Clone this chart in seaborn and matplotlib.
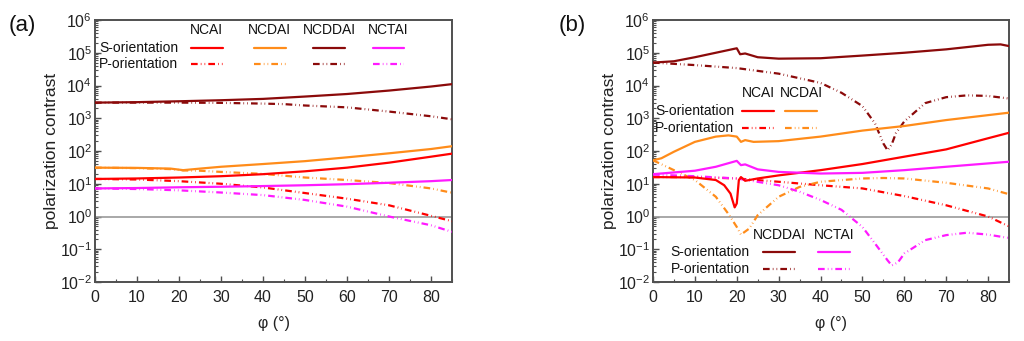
import numpy as np
import pandas as pd
import seaborn as sns
import matplotlib
matplotlib.use("Agg")
import matplotlib.pyplot as plt
from matplotlib.lines import Line2D
from matplotlib.ticker import LogLocator, MultipleLocator, NullFormatter

sns.set_theme(style="white")
plt.rcParams['font.family'] = ['Liberation Sans', 'DejaVu Sans']
plt.rcParams['mathtext.fontset'] = 'custom'
plt.rcParams['mathtext.rm'] = 'Liberation Sans'
plt.rcParams['mathtext.it'] = 'Liberation Sans:italic'
plt.rcParams['mathtext.bf'] = 'Liberation Sans:bold'

materials = ["NCAI", "NCDAI", "NCDDAI", "NCTAI"]
colors = {"NCAI": "#ff0000", "NCDAI": "#ff8c1a", "NCDDAI": "#8b0a0a", "NCTAI": "#ff1aff"}

# ---------------- Panel (a) ----------------
a_NCDDAI_S_x = [0, 10, 20, 30, 40, 50, 60, 70, 80, 85]
a_NCDDAI_S_y = [3000, 3100, 3300, 3550, 3900, 4600, 5500, 7000, 9300, 11000]
a_NCDDAI_P_x = [0, 10, 20, 30, 40, 45, 50, 60, 70, 80, 85]
a_NCDDAI_P_y = [3000, 3000, 3000, 2950, 2800, 2700, 2450, 2150, 1600, 1150, 930]

a_NCDAI_S_x = [0, 10, 18, 21, 25, 30, 40, 50, 60, 70, 80, 85]
a_NCDAI_S_y = [31, 30.5, 29, 26, 29, 33, 40, 49, 64, 85, 115, 140]
a_NCDAI_P_x = [0, 10, 18, 21, 25, 30, 40, 50, 60, 70, 80, 85]
a_NCDAI_P_y = [31, 30, 28, 25.5, 25, 23, 20, 15.5, 13, 10.5, 7.2, 5.3]

a_NCAI_S_x = [0, 10, 20, 30, 40, 50, 60, 70, 80, 85]
a_NCAI_S_y = [14, 14.5, 15.5, 17, 19.6, 24, 31, 44, 67, 83]
a_NCAI_P_x = [0, 10, 20, 30, 40, 50, 60, 70, 80, 85]
a_NCAI_P_y = [14, 13.5, 12, 10, 7.7, 5.2, 3.5, 2.2, 1.05, 0.72]

a_NCTAI_S_x = [0, 10, 20, 30, 40, 50, 60, 70, 80, 85]
a_NCTAI_S_y = [7.2, 7.4, 7.8, 8.1, 8.5, 9.0, 9.7, 10.7, 12, 13]
a_NCTAI_P_x = [0, 10, 20, 30, 40, 50, 60, 70, 80, 85]
a_NCTAI_P_y = [7.2, 6.9, 6.3, 5.4, 4.5, 3.2, 2.0, 1.0, 0.54, 0.34]

# ---------------- Panel (b) ----------------
b_NCDDAI_S_x = [0, 5, 10, 15, 20, 20.8, 22, 25, 30, 40, 50, 60, 70, 80, 83, 85]
b_NCDDAI_S_y = [50000, 55000, 73000, 100000, 137000, 90000, 95000, 73000, 66000, 68000, 82000,
                100000, 127000, 175000, 180000, 160000]
b_NCDDAI_P_x = [0, 10, 20, 30, 40, 45, 50, 53, 55, 56, 57, 58, 60, 65, 70, 75, 80, 85]
b_NCDDAI_P_y = [50000, 42000, 34000, 23000, 12000, 6000, 2350, 700, 170, 105, 160, 350, 800,
                2900, 4400, 5000, 4800, 4000]

b_NCDAI_S_x = [0, 2, 5, 10, 15, 18, 20, 21, 22, 24, 30, 40, 50, 60, 70, 85]
b_NCDAI_S_y = [52, 60, 95, 190, 275, 300, 275, 190, 215, 190, 200, 275, 420, 580, 880, 1480]
b_NCDAI_P_x = [0, 5, 10, 15, 18, 20, 21, 23, 25, 30, 35, 40, 50, 55, 60, 70, 80, 85]
b_NCDAI_P_y = [52, 26, 13, 4, 1.2, 0.48, 0.28, 0.43, 1.1, 4, 8, 11.5, 14.5, 15, 14.5, 10.7,
               7.2, 4.8]

b_NCAI_S_x = [0, 10, 15, 17, 18.5, 19.5, 20, 20.5, 21, 22, 25, 30, 40, 50, 60, 70, 80, 85]
b_NCAI_S_y = [16, 15.5, 13, 9, 5, 1.9, 2.5, 13, 16, 12.3, 14.5, 18, 26, 40, 67, 112, 245, 360]
b_NCAI_P_x = [0, 10, 20, 30, 40, 50, 60, 70, 80, 85]
b_NCAI_P_y = [16, 16, 14.5, 11.5, 9, 7.2, 4.2, 2.2, 1.0, 0.5]

b_NCTAI_S_x = [0, 10, 15, 20, 21, 22, 25, 30, 40, 50, 60, 70, 85]
b_NCTAI_S_y = [19.6, 25, 33, 50, 37, 39, 27.5, 23, 20.5, 21.5, 26, 33, 47]
b_NCTAI_P_x = [0, 10, 20, 30, 35, 40, 45, 50, 53, 56, 57, 58.5, 60, 65, 70, 75, 80, 85]
b_NCTAI_P_y = [19, 17, 14.5, 9, 5.7, 3.2, 1.6, 0.48, 0.15, 0.046, 0.032, 0.04, 0.074, 0.19,
               0.27, 0.32, 0.28, 0.22]

panel_a = {
    "NCAI": (a_NCAI_S_x, a_NCAI_S_y, a_NCAI_P_x, a_NCAI_P_y),
    "NCDAI": (a_NCDAI_S_x, a_NCDAI_S_y, a_NCDAI_P_x, a_NCDAI_P_y),
    "NCDDAI": (a_NCDDAI_S_x, a_NCDDAI_S_y, a_NCDDAI_P_x, a_NCDDAI_P_y),
    "NCTAI": (a_NCTAI_S_x, a_NCTAI_S_y, a_NCTAI_P_x, a_NCTAI_P_y),
}
panel_b = {
    "NCAI": (b_NCAI_S_x, b_NCAI_S_y, b_NCAI_P_x, b_NCAI_P_y),
    "NCDAI": (b_NCDAI_S_x, b_NCDAI_S_y, b_NCDAI_P_x, b_NCDAI_P_y),
    "NCDDAI": (b_NCDDAI_S_x, b_NCDDAI_S_y, b_NCDDAI_P_x, b_NCDDAI_P_y),
    "NCTAI": (b_NCTAI_S_x, b_NCTAI_S_y, b_NCTAI_P_x, b_NCTAI_P_y),
}

P_DASH = (3.0, 1.4, 0.3, 1.4, 0.3, 1.4)
LW = 1.6
SPINE = "#505050"

fig = plt.figure(figsize=(10.24, 3.41), dpi=100)
ax_a = fig.add_axes([95 / 1024, 1 - 282 / 341, 357 / 1024, 262 / 341])
ax_b = fig.add_axes([653 / 1024, 1 - 282 / 341, 356 / 1024, 262 / 341])


def style_axes(ax):
    ax.set_yscale("log")
    ax.set_xlim(0, 85)
    ax.set_ylim(1e-2, 1e6)
    ax.axhline(1, color="#9a9a9a", lw=1.2, zorder=1)
    ax.yaxis.set_major_locator(LogLocator(base=10, numticks=20))
    ax.yaxis.set_minor_locator(LogLocator(base=10, subs=np.arange(2, 10), numticks=20))
    ax.yaxis.set_minor_formatter(NullFormatter())
    ax.xaxis.set_major_locator(MultipleLocator(10))
    ax.xaxis.set_minor_locator(MultipleLocator(5))
    ax.tick_params(axis="both", which="both", direction="in", colors="#222222",
                   labelsize=11.5, top=False, right=False, bottom=True, left=True)
    ax.tick_params(axis="both", which="major", length=4, width=1, color=SPINE)
    ax.tick_params(axis="both", which="minor", length=2.5, width=0.8, color=SPINE)
    ax.tick_params(axis="y", which="major", pad=2)
    ax.tick_params(axis="x", which="major", pad=6)
    for s in ax.spines.values():
        s.set_color(SPINE)
        s.set_linewidth(1.4)
        s.set_visible(True)
    ax.set_xlabel("φ (°)", fontsize=11.5, labelpad=8, color="#222222")
    ax.set_ylabel("polarization contrast", fontsize=12.5, labelpad=1, color="#222222")


def draw(ax, data):
    for m in materials:
        sx, sy, px, py = data[m]
        sns.lineplot(x=px, y=py, ax=ax, color=colors[m], lw=LW, dashes=P_DASH,
                     estimator=None, sort=False, zorder=3)
        sns.lineplot(x=sx, y=sy, ax=ax, color=colors[m], lw=LW,
                     estimator=None, sort=False, zorder=4)


def legend_block(ax, names, header_y, s_y, p_y, label_x, line_spans):
    ax.text(label_x, s_y, "S-orientation", transform=ax.transAxes, fontsize=10,
            va="center", ha="left", color="#111111")
    ax.text(label_x, p_y, "P-orientation", transform=ax.transAxes, fontsize=10,
            va="center", ha="left", color="#111111")
    for m, (x0, x1) in zip(names, line_spans):
        ax.text((x0 + x1) / 2, header_y, m, transform=ax.transAxes, fontsize=10,
                va="center", ha="center", color="#111111")
        ax.add_line(Line2D([x0, x1], [s_y, s_y], transform=ax.transAxes,
                           color=colors[m], lw=LW))
        ax.add_line(Line2D([x0, x1], [p_y, p_y], transform=ax.transAxes,
                           color=colors[m], lw=LW, dashes=P_DASH))


style_axes(ax_a)
style_axes(ax_b)
draw(ax_a, panel_a)
draw(ax_b, panel_b)

legend_block(ax_a, materials, 0.962, 0.894, 0.831, 0.012,
             [(0.268, 0.358), (0.445, 0.535), (0.611, 0.700), (0.778, 0.866)])
legend_block(ax_b, ["NCAI", "NCDAI"], 0.721, 0.653, 0.588, 0.006,
             [(0.25, 0.34), (0.371, 0.461)])
legend_block(ax_b, ["NCDDAI", "NCTAI"], 0.179, 0.114, 0.05, 0.05,
             [(0.309, 0.399), (0.464, 0.553)])

fig.text(22 / 1024, 1 - 25 / 341, "(a)", fontsize=16, ha="center", va="center", color="#111111")
fig.text(572 / 1024, 1 - 25 / 341, "(b)", fontsize=16, ha="center", va="center", color="#111111")

fig.savefig("out.png", dpi=100)
